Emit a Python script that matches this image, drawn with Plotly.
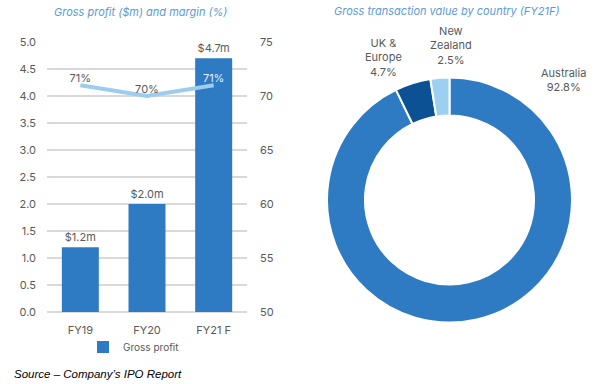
import plotly.graph_objects as go

years = ["FY19", "FY20", "FY21 F"]
gross_profit = [1.2, 2.0, 4.7]
margin = [71, 70, 71]
profit_labels = ["$1.2m", "$2.0m", "$4.7m"]
margin_labels = ["71%", "70%", "71%"]

countries = ["Australia", "UK &<br>Europe", "New<br>Zealand"]
shares = [92.8, 4.7, 2.5]

FONT = "Inter"
GREY = "#595959"
BAR = "#2e7bc4"

W, H = 615, 384


def px(x):
    return x / W


def py(y):
    return 1 - y / H


fig = go.Figure()

fig.add_trace(go.Bar(
    x=years, y=gross_profit, name="Gross profit",
    marker=dict(color=BAR, line=dict(width=0)),
    text=profit_labels, textposition="outside", cliponaxis=False,
    textfont=dict(color=GREY, size=11, family=FONT),
    xaxis="x", yaxis="y",
))

fig.add_trace(go.Scatter(
    x=years, y=margin, mode="lines+text", name="Gross margin",
    line=dict(color="#9dcdee", width=4),
    text=margin_labels, textposition="top center",
    textfont=dict(color=[GREY, GREY, "#e6f0fa"], size=11, family=FONT),
    showlegend=False, cliponaxis=False,
    xaxis="x", yaxis="y2",
))

fig.add_trace(go.Pie(
    labels=countries, values=shares, hole=0.69, sort=False,
    direction="clockwise", rotation=0,
    marker=dict(colors=[BAR, "#0b5193", "#9dd0f0"], line=dict(color="white", width=2)),
    textinfo="none", hoverinfo="label+percent", showlegend=False,
    domain=dict(x=[px(327), px(572)], y=[py(323), py(77)]),
))

fig.update_layout(
    width=W, height=H,
    margin=dict(l=0, r=0, t=0, b=0, autoexpand=False),
    paper_bgcolor="white", plot_bgcolor="white",
    font=dict(family=FONT, color=GREY, size=11),
    bargap=0.445,
    xaxis=dict(domain=[px(47), px(247)], range=[-0.5, 2.5], showgrid=False, automargin=False,
               showline=False, ticks="", ticklabelstandoff=10,
               tickfont=dict(size=11, color=GREY)),
    yaxis=dict(domain=[py(312), py(42)], range=[0, 5], dtick=0.5, tickformat=".1f",
               automargin=False, ticklabelstandoff=10,
               showgrid=True, gridcolor="#d9d9d9", gridwidth=1.5,
               zeroline=True, zerolinecolor="#d9d9d9", zerolinewidth=1.5,
               ticks="", ticklen=0, tickfont=dict(size=11, color=GREY)),
    yaxis2=dict(overlaying="y", side="right", range=[50, 75], dtick=5, automargin=False,
                showgrid=False, zeroline=False, ticks="", ticklabelstandoff=12,
                tickfont=dict(size=11, color=GREY)),
    legend=dict(orientation="h", x=px(134), y=py(347), xanchor="center",
                yanchor="middle", font=dict(size=10, color=GREY),
                bgcolor="rgba(0,0,0,0)"),
)

# Titles
fig.add_annotation(text="<i>Gross profit ($m) and margin (%)</i>", x=px(140), y=py(12),
                   xref="paper", yref="paper", showarrow=False, xanchor="center", yanchor="middle",
                   font=dict(size=11, color="#5b9bd5", family=FONT))
fig.add_annotation(text="<i>Gross transaction value by country (FY21F)</i>", x=px(447), y=py(11),
                   xref="paper", yref="paper", showarrow=False, xanchor="center", yanchor="middle",
                   font=dict(size=11, color="#5b9bd5", family=FONT))

# Donut labels
label_pos = [(563, 80), (383, 58), (451, 45)]
for name, val, (lx, ly) in zip(countries, shares, label_pos):
    fig.add_annotation(text=f"{name}<br>{val}%", x=px(lx), y=py(ly),
                       xref="paper", yref="paper", showarrow=False,
                       xanchor="center", yanchor="middle",
                       font=dict(size=11, color=GREY, family=FONT), align="center")

fig.add_annotation(text="<i>Source – Company’s IPO Report</i>", x=px(12), y=py(374),
                   xref="paper", yref="paper", showarrow=False, xanchor="left", yanchor="middle",
                   font=dict(size=11.5, color="black", family="Liberation Sans"))

fig.write_html("out.html",
               config={"displayModeBar": False},
               post_script="document.body.style.margin='0';document.body.style.overflow='hidden';")
